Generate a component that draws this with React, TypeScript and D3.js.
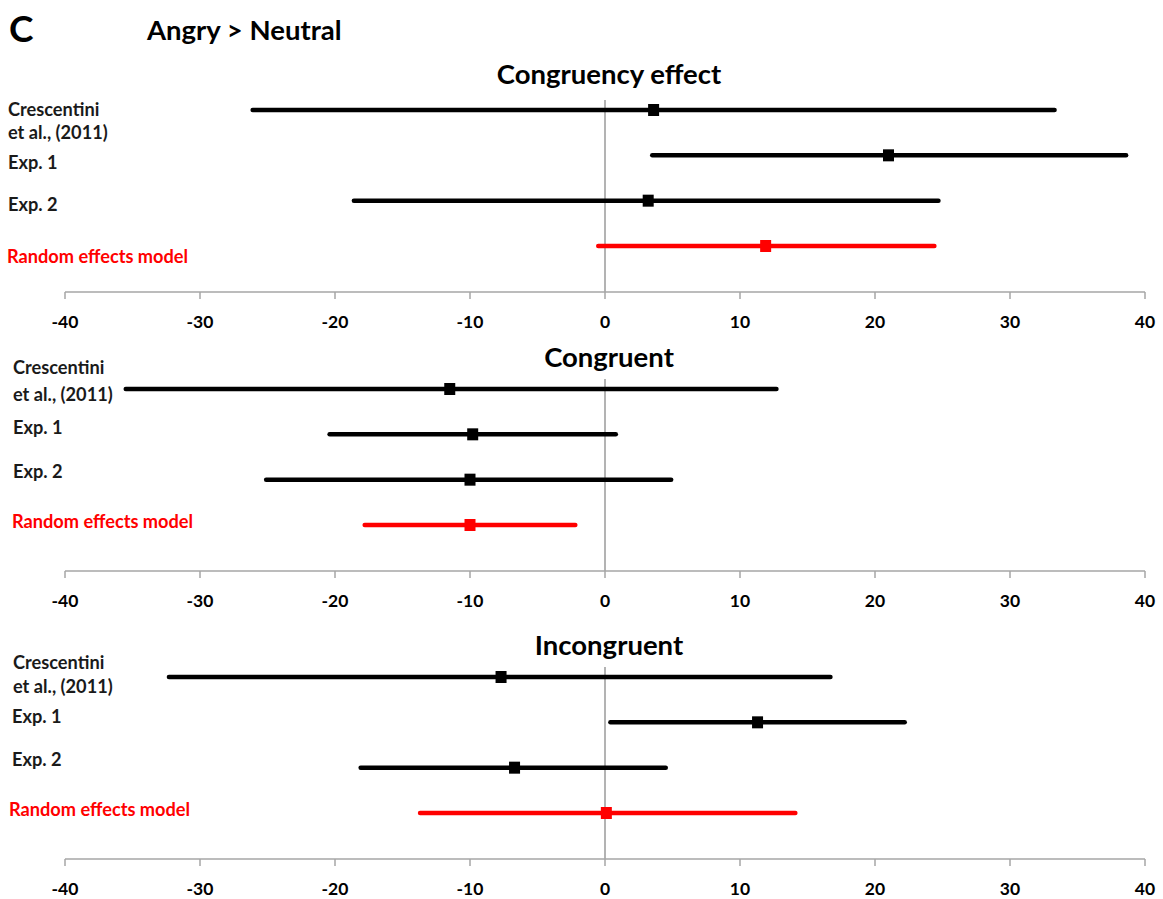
import * as d3 from 'd3';

// study rows, shared by all three panels
const studies = ['Crescentini et al., (2011)', 'Exp. 1', 'Exp. 2', 'Random effects model'];
const panelTitles = ['Congruency effect', 'Congruent', 'Incongruent'];
const xTicks = [-40, -30, -20, -10, 0, 10, 20, 30, 40];

// Congruency effect
const congruencyMean = [3.6, 21.0, 3.2, 11.9];
const congruencyLow = [-26.1, 3.5, -18.6, -0.5];
const congruencyHigh = [33.3, 38.6, 24.7, 24.4];

// Congruent
const congruentMean = [-11.5, -9.8, -10.0, -10.0];
const congruentLow = [-35.5, -20.4, -25.1, -17.8];
const congruentHigh = [12.7, 0.8, 4.9, -2.2];

// Incongruent
const incongruentMean = [-7.7, 11.3, -6.7, 0.1];
const incongruentLow = [-32.3, 0.4, -18.1, -13.7];
const incongruentHigh = [16.7, 22.2, 4.5, 14.1];

const panels = [
  { title: panelTitles[0], mean: congruencyMean, low: congruencyLow, high: congruencyHigh },
  { title: panelTitles[1], mean: congruentMean, low: congruentLow, high: congruentHigh },
  { title: panelTitles[2], mean: incongruentMean, low: incongruentLow, high: incongruentHigh },
];

const W = 1163;
const H = 899;
const FONT = 'Lato, "Open Sans", sans-serif';
const RED = '#ff0000';

// layout
const panelTop = [0, 279, 567];
const titleY = [74, 357, 645];
const labelYs = [
  [110, 133, 163, 205, 257],
  [368, 395, 428, 472, 522],
  [663, 687, 717, 760, 810],
];
const labelXs = [
  [8, 8, 8, 8, 7],
  [13, 13, 13, 13, 12],
  [13, 13, 12, 12, 9],
];

const x = d3.scaleLinear().domain([-40, 40]).range([65, 1145]);
const row = d3.scalePoint<string>().domain(studies).range([110, 246]);
const AXIS_Y = 292;

function Panel({ idx }: { idx: number }) {
  const p = panels[idx];
  const top = panelTop[idx];
  const ly = labelYs[idx];
  const lx = labelXs[idx];
  const labelLines = [['Crescentini', 0], ['et al., (2011)', 0], ['Exp. 1', 1], ['Exp. 2', 2], ['Random effects model', 3]] as const;
  return (
    <g>
      <text x={609} y={titleY[idx]} dy="0.35em" textAnchor="middle"
        fontFamily={FONT} fontWeight={700} fontSize={27.5} fill="#000">
        {p.title}
      </text>
      <g transform={`translate(0,${top})`}>
        {/* zero reference line */}
        <line x1={x(0)} x2={x(0)} y1={(row(studies[0]) ?? 0) - 10} y2={AXIS_Y} stroke="#9a9a9a" strokeWidth={1.5} />
        {/* axis */}
        <line x1={x(-40)} x2={x(40)} y1={AXIS_Y} y2={AXIS_Y} stroke="#a6a6a6" strokeWidth={1.5} />
        {xTicks.map(t => (
          <g key={t}>
            <line x1={x(t)} x2={x(t)} y1={AXIS_Y} y2={AXIS_Y + 7} stroke="#a6a6a6" strokeWidth={1.5} />
            <text x={x(t)} y={AXIS_Y + 30} dy="0.35em" textAnchor="middle" fontFamily={FONT} fontWeight={700}
              fontSize={17.5} fill="#000">{t}</text>
          </g>
        ))}
        {studies.map((s, i) => {
          const y = row(s) ?? 0;
          const c = i === 3 ? RED : '#000';
          return (
            <g key={s}>
              <line x1={x(p.low[i])} x2={x(p.high[i])} y1={y} y2={y} stroke={c} strokeWidth={4.5} strokeLinecap="round" />
              <rect x={x(p.mean[i]) - 5.5} y={y - 6} width={11} height={12} fill={c} />
            </g>
          );
        })}
      </g>
      {labelLines.map(([txt, si], j) => (
        <text key={j} x={lx[j]} y={ly[j]} dy="0.35em" fontFamily={FONT} fontWeight={700} fontSize={18.2}
          fill={si === 3 ? RED : '#1a1a1a'}>{txt}</text>
      ))}
    </g>
  );
}

export default function App() {
  return (
    <svg width={W} height={H} style={{ position: 'absolute', left: 0, top: 0, background: '#fff' }}>
      <rect width={W} height={H} fill="#fff" />
      <text x={9} y={29} dy="0.35em" fontFamily={FONT} fontWeight={700} fontSize={37} fill="#000">C</text>
      <text x={147} y={30} dy="0.35em" fontFamily={FONT} fontWeight={700} fontSize={27.5} fill="#000">Angry &gt; Neutral</text>
      {panels.map((_, i) => <Panel key={i} idx={i} />)}
    </svg>
  );
}
